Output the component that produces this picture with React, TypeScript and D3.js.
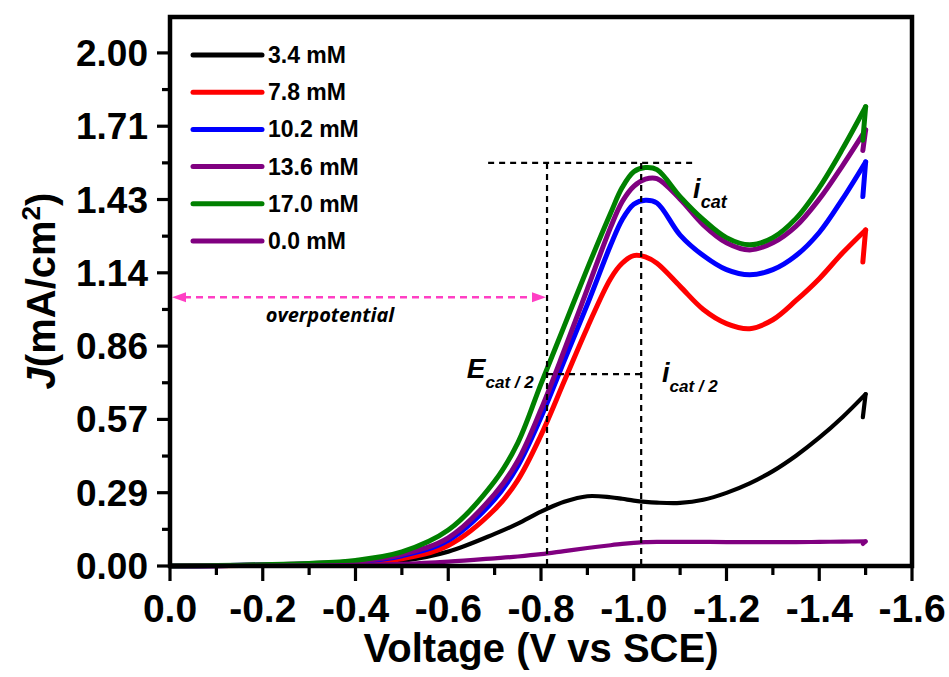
import React from "react";
import * as d3 from "d3";

// potential grid (V vs SCE)
const voltage = [
  0, -0.1, -0.2, -0.3, -0.4, -0.5, -0.6, -0.7, -0.75, -0.8, -0.85, -0.9, -0.95,
  -0.975, -1.0, -1.025, -1.05, -1.1, -1.15, -1.2, -1.25, -1.3, -1.35, -1.4, -1.45, -1.5,
];

// current density (mA/cm2) for each concentration
const j34 = [0, 0.001, 0.002, 0.004, 0.008, 0.02, 0.056, 0.125, 0.165, 0.212, 0.25, 0.272, 0.268, 0.262, 0.255, 0.25, 0.247, 0.246, 0.258, 0.285, 0.322, 0.37, 0.43, 0.5, 0.58, 0.67];
const j78 = [0, 0.001, 0.003, 0.006, 0.013, 0.028, 0.08, 0.22, 0.335, 0.51, 0.72, 0.93, 1.12, 1.18, 1.21, 1.205, 1.18, 1.09, 1.0, 0.945, 0.925, 0.96, 1.035, 1.12, 1.22, 1.31];
const j102 = [0, 0.001, 0.004, 0.008, 0.016, 0.04, 0.1, 0.26, 0.39, 0.58, 0.8, 1.02, 1.25, 1.35, 1.41, 1.426, 1.415, 1.29, 1.21, 1.155, 1.135, 1.155, 1.21, 1.3, 1.43, 1.575];
const j136 = [0, 0.001, 0.004, 0.009, 0.018, 0.045, 0.11, 0.28, 0.41, 0.61, 0.84, 1.08, 1.32, 1.42, 1.48, 1.508, 1.51, 1.43, 1.33, 1.26, 1.232, 1.26, 1.325, 1.43, 1.56, 1.7];
const j170 = [0, 0.002, 0.005, 0.01, 0.022, 0.055, 0.14, 0.33, 0.48, 0.71, 0.935, 1.16, 1.375, 1.475, 1.537, 1.553, 1.545, 1.44, 1.35, 1.28, 1.252, 1.28, 1.355, 1.475, 1.625, 1.79];
const j00 = [0, 0.0005, 0.001, 0.002, 0.004, 0.008, 0.017, 0.03, 0.037, 0.046, 0.058, 0.07, 0.081, 0.086, 0.09, 0.093, 0.094, 0.094, 0.094, 0.093, 0.093, 0.093, 0.093, 0.094, 0.095, 0.096];

// start of the reverse scan (small hook at -1.5 V)
const reverseV = -1.494;
const reverseJ = [0.58, 1.185, 1.44, 1.62, 1.66, 0.086];

const seriesNames = ["3.4 mM", "7.8 mM", "10.2 mM", "13.6 mM", "17.0 mM", "0.0 mM"];
const seriesColors = ["#000000", "#ff0000", "#0000ff", "#800080", "#008000", "#800080"];
const seriesValues = [j34, j78, j102, j136, j170, j00];

const xTicks = [0, -0.2, -0.4, -0.6, -0.8, -1.0, -1.2, -1.4, -1.6];
const xTickLabels = ["0.0", "-0.2", "-0.4", "-0.6", "-0.8", "-1.0", "-1.2", "-1.4", "-1.6"];
const xMinor = [-0.1, -0.3, -0.5, -0.7, -0.9, -1.1, -1.3, -1.5];
const yTicks = [0, 2 / 7, 4 / 7, 6 / 7, 8 / 7, 10 / 7, 12 / 7, 2];
const yTickLabels = ["0.00", "0.29", "0.57", "0.86", "1.14", "1.43", "1.71", "2.00"];
const yMinor = [1 / 7, 3 / 7, 5 / 7, 7 / 7, 9 / 7, 11 / 7, 13 / 7];

// annotation values
const eCatHalf = -0.813;
const iCatPotential = -1.016;
const iCat = 1.571;
const iCatHalf = 0.748;
const iCatLineFrom = -0.686;
const iCatLineTo = -1.128;
const overpotentialJ = 1.048;

const W = 949;
const H = 677;
const left = 170;
const right = 912;
const top = 17;
const bottom = 566;

const FONT = "'Liberation Sans', Arial, Helvetica, sans-serif";

export default function App() {
  const x = d3.scaleLinear().domain([0, -1.6]).range([left, right]);
  const y = d3.scaleLinear().domain([0, 2.14]).range([bottom, top]);

  const line = d3
    .line<[number, number]>()
    .x((d) => x(d[0]))
    .y((d) => y(d[1]))
    .curve(d3.curveCatmullRom.alpha(0.5));
  const straight = d3
    .line<[number, number]>()
    .x((d) => x(d[0]))
    .y((d) => y(d[1]));

  const dash = { stroke: "#000", strokeWidth: 2.2, strokeDasharray: "6,5", fill: "none" };
  const pink = "#ff3fc4";
  const arrowY = y(overpotentialJ);
  const ax0 = x(0) + 2;
  const ax1 = x(eCatHalf) - 1;

  return (
    <svg
      width={W}
      height={H}
      style={{ position: "absolute", left: 0, top: 0, background: "#fff" }}
      fontFamily={FONT}
    >
      {/* curves */}
      {seriesValues.map((vals, i) => {
        const pts = voltage.map((v, k) => [v, vals[k]] as [number, number]);
        const last = pts[pts.length - 1];
        const sw = i === 0 || i === 5 ? 4.2 : 5;
        return (
          <g key={seriesNames[i]} stroke={seriesColors[i]} fill="none" strokeLinecap="round" strokeLinejoin="round">
            <path d={line(pts) || ""} strokeWidth={sw} />
            <path d={straight([last, [reverseV, reverseJ[i]]]) || ""} strokeWidth={sw} />
          </g>
        );
      })}

      {/* dashed guides */}
      <line x1={x(iCatLineFrom)} x2={x(iCatLineTo)} y1={y(iCat)} y2={y(iCat)} {...dash} />
      <line x1={x(eCatHalf)} x2={x(eCatHalf)} y1={y(iCat)} y2={y(0)} {...dash} />
      <line x1={x(iCatPotential)} x2={x(iCatPotential)} y1={y(iCat)} y2={y(0)} {...dash} />
      <line x1={x(eCatHalf)} x2={x(iCatPotential)} y1={y(iCatHalf)} y2={y(iCatHalf)} {...dash} />

      {/* overpotential arrow */}
      <line x1={ax0 + 12} x2={ax1 - 12} y1={arrowY} y2={arrowY} stroke={pink} strokeWidth={2.5} strokeDasharray="7,5" />
      <polygon points={`${ax0},${arrowY} ${ax0 + 14},${arrowY - 5} ${ax0 + 14},${arrowY + 5}`} fill={pink} />
      <polygon points={`${ax1},${arrowY} ${ax1 - 14},${arrowY - 5} ${ax1 - 14},${arrowY + 5}`} fill={pink} />
      <text x={x(-0.345)} y={y(0.951)} textAnchor="middle" fontSize={20} fontWeight="bold" fontStyle="italic" fontFamily="'Open Sans', sans-serif">
        overpotential
      </text>

      {/* labels */}
      <text x={x(-1.128)} y={y(1.434)} fontWeight="bold" fontStyle="italic" fontSize={27}>
        i<tspan fontSize={18} dy={10}>cat</tspan>
      </text>
      <text x={x(-0.64)} y={y(0.733)} fontWeight="bold" fontStyle="italic" fontSize={28}>
        E<tspan fontSize={17} dy={10}>cat / 2</tspan>
      </text>
      <text x={x(-1.061)} y={y(0.717)} fontWeight="bold" fontStyle="italic" fontSize={27}>
        i<tspan fontSize={17} dy={10}>cat / 2</tspan>
      </text>

      {/* legend */}
      {seriesNames.map((name, i) => {
        const ly = 55 + i * 37.2;
        return (
          <g key={name}>
            <line x1={193} x2={262} y1={ly} y2={ly} stroke={seriesColors[i]} strokeWidth={5} strokeLinecap="round" />
            <text x={268} y={ly + 8} fontSize={23} fontWeight="bold">
              {name}
            </text>
          </g>
        );
      })}

      {/* frame */}
      <rect x={left} y={top} width={right - left} height={bottom - top} fill="none" stroke="#000" strokeWidth={4.5} />

      {/* x axis ticks */}
      {xTicks.map((t, i) => (
        <g key={"xt" + t}>
          <line x1={x(t)} x2={x(t)} y1={bottom} y2={bottom + 15} stroke="#000" strokeWidth={3.2} />
          <text x={x(t)} y={622} textAnchor="middle" fontSize={39} fontWeight="bold">
            {xTickLabels[i]}
          </text>
        </g>
      ))}
      {xMinor.map((t) => (
        <line key={"xm" + t} x1={x(t)} x2={x(t)} y1={bottom} y2={bottom + 9} stroke="#000" strokeWidth={3.2} />
      ))}

      {/* y axis ticks */}
      {yTicks.map((t, i) => (
        <g key={"yt" + t}>
          <line x1={left - 13} x2={left} y1={y(t)} y2={y(t)} stroke="#000" strokeWidth={3.2} />
          <text x={148} y={y(t) + 13} textAnchor="end" fontSize={37} fontWeight="bold">
            {yTickLabels[i]}
          </text>
        </g>
      ))}
      {yMinor.map((t) => (
        <line key={"ym" + t} x1={left - 8} x2={left} y1={y(t)} y2={y(t)} stroke="#000" strokeWidth={3.2} />
      ))}

      {/* axis titles */}
      <text x={(left + right) / 2} y={662} textAnchor="middle" fontSize={40} fontWeight="bold">
        Voltage (V vs SCE)
      </text>
      <text transform={`translate(55, 291) rotate(-90)`} textAnchor="middle" fontSize={40} fontWeight="bold">
        <tspan fontStyle="italic">J</tspan>(mA/cm
        <tspan fontSize={26} dy={-15}>2</tspan>
        <tspan dy={15}>)</tspan>
      </text>
    </svg>
  );
}
